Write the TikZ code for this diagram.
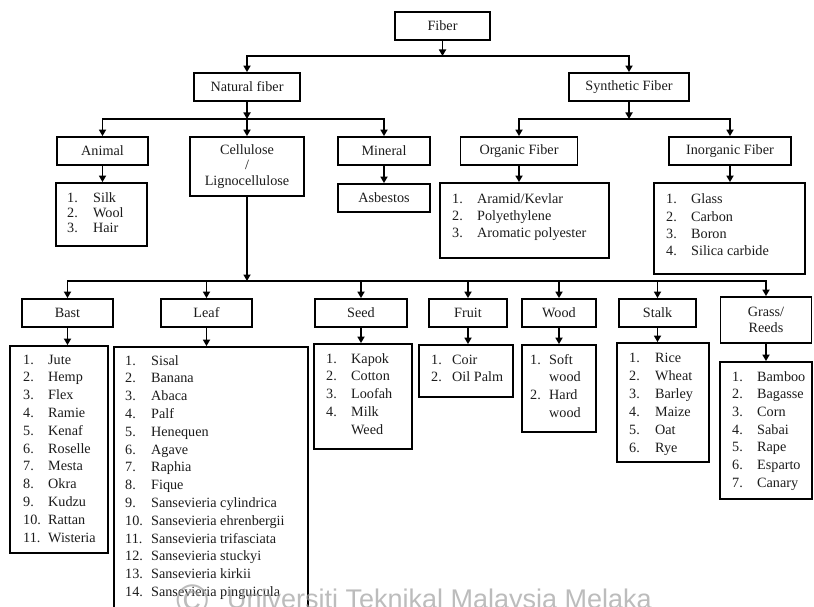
\documentclass[tikz,border=0pt]{standalone}
\usepackage{fontspec}
\setmainfont{Liberation Serif}
\setsansfont{Liberation Sans}
\usetikzlibrary{arrows.meta}
\definecolor{txt}{HTML}{1C1C1C}
\definecolor{wmc}{HTML}{A0A0A0}
\newcommand\mylist[6]{%
  \node[anchor=base west, inner sep=0pt, text=txt, font=\fontsize{14.2}{#5}\selectfont] (#1) at (#2,#3)
  {\begin{tabular}[t]{@{}p{#4pt}@{}l@{}}#6\end{tabular}};}
\begin{document}
\begin{tikzpicture}[x=1pt,y=-1pt,
  box/.style={draw=black, line width=1.8pt, rectangle, inner sep=0pt, text=txt,
    font=\fontsize{14.2}{15.5}\selectfont, align=center},
  arr/.style={line width=1.8pt, -{Triangle[length=6.5pt,width=7pt]}},
  ln/.style={line width=1.8pt}]
\useasboundingbox (0,0) rectangle (814,607);
\clip (0,0) rectangle (814,607);
\fill[white] (0,0) rectangle (814,607);

% level 0-2 boxes
\node[box, minimum width=95pt, minimum height=28pt] (fiber) at (442.5,26) {Fiber};
\node[box, minimum width=106pt, minimum height=28pt] (nat) at (247,87) {Natural fiber};
\node[box, minimum width=120pt, minimum height=28pt] (syn) at (629,87) {Synthetic Fiber};
\node[box, minimum width=91pt, minimum height=28pt] (animal) at (102.5,151) {Animal};
\node[box, minimum width=114pt, minimum height=59pt] (cell) at (247,166.5) {Cellulose\\/\\Lignocellulose};
\node[box, minimum width=92pt, minimum height=28pt] (mineral) at (384,151) {Mineral};
\node[box, minimum width=117pt, minimum height=28pt] (organic) at (519,151) {Organic Fiber};
\node[box, minimum width=122pt, minimum height=28pt] (inorg) at (730,151) {Inorganic Fiber};

% lists level 2
\node[box, minimum width=91pt, minimum height=63pt] (animall) at (101.5,214.5) {};
\node[box, minimum width=92pt, minimum height=28pt] (asb) at (384,198) {Asbestos};
\node[box, minimum width=169pt, minimum height=75pt] (orgl) at (524.5,220.5) {};
\node[box, minimum width=151pt, minimum height=91pt] (inorgl) at (729.5,228.5) {};

% level 3 boxes
\node[box, minimum width=91pt, minimum height=28pt] (bast) at (67.5,313) {Bast};
\node[box, minimum width=91pt, minimum height=28pt] (leaf) at (206.5,313) {Leaf};
\node[box, minimum width=92pt, minimum height=28pt] (seed) at (361,313) {Seed};
\node[box, minimum width=78pt, minimum height=28pt] (fruit) at (468,313) {Fruit};
\node[box, minimum width=74pt, minimum height=28pt] (wood) at (559,313) {Wood};
\node[box, minimum width=77pt, minimum height=28pt] (stalk) at (657.5,313) {Stalk};
\node[box, minimum width=91pt, minimum height=46pt] (grass) at (766,320) {Grass/\\Reeds};

% level 3 lists
\node[box, minimum width=98pt, minimum height=207pt] (bastl) at (59,449.5) {};
\node[box, minimum width=194pt, minimum height=273pt] (leafl) at (211,483.5) {};
\node[box, minimum width=98pt, minimum height=105pt] (seedl) at (363,396.5) {};
\node[box, minimum width=94pt, minimum height=52pt] (fruitl) at (466,371) {};
\node[box, minimum width=74pt, minimum height=87pt] (woodl) at (559,388.5) {};
\node[box, minimum width=92pt, minimum height=119pt] (stalkl) at (663,402.5) {};
\node[box, minimum width=92pt, minimum height=137pt] (grassl) at (766,430.5) {};

% list texts
\mylist{tanimal}{67}{202}{26}{15.2}{1.&Silk\\2.&Wool\\3.&Hair}
\mylist{torg}{452}{203}{25}{17.3}{1.&Aramid/Kevlar\\2.&Polyethylene\\3.&Aromatic polyester}
\mylist{tinorg}{666}{204}{25}{17.3}{1.&Glass\\2.&Carbon\\3.&Boron\\4.&Silica carbide}
\mylist{tbast}{23}{364}{25}{17.8}{1.&Jute\\2.&Hemp\\3.&Flex\\4.&Ramie\\5.&Kenaf\\6.&Roselle\\7.&Mesta\\8.&Okra\\9.&Kudzu\\10.&Rattan\\11.&Wisteria}
\mylist{tleaf}{125}{365}{26}{17.8}{1.&Sisal\\2.&Banana\\3.&Abaca\\4.&Palf\\5.&Henequen\\6.&Agave\\7.&Raphia\\8.&Fique\\9.&Sansevieria cylindrica\\10.&Sansevieria ehrenbergii\\11.&Sansevieria trifasciata\\12.&Sansevieria stuckyi\\13.&Sansevieria kirkii\\14.&Sansevieria pinguicula}
\mylist{tseed}{326}{363}{25}{17.75}{1.&Kapok\\2.&Cotton\\3.&Loofah\\4.&Milk\\&Weed}
\mylist{tfruit}{431}{364}{21}{17.7}{1.&Coir\\2.&Oil Palm}
\mylist{twood}{530}{364}{19}{17.7}{1.&Soft\\&wood\\2.&Hard\\&wood}
\mylist{tstalk}{629}{362}{26}{18.05}{1.&Rice\\2.&Wheat\\3.&Barley\\4.&Maize\\5.&Oat\\6.&Rye}
\mylist{tgrass}{732}{381}{25}{17.7}{1.&Bamboo\\2.&Bagasse\\3.&Corn\\4.&Sabai\\5.&Rape\\6.&Esparto\\7.&Canary}

% junctions
\coordinate (jf) at (442.5,56);
\coordinate (jn) at (247,119);
\coordinate (js) at (629,119);
\coordinate (jc) at (247,281);

% connectors
\draw[arr] (fiber) -- (jf);
\draw[arr] (jf) -| (nat);
\draw[arr] (jf) -| (syn);
\draw[arr] (nat) -- (jn);
\draw[arr] (jn) -| (animal);
\draw[arr] (jn) -- (cell);
\draw[arr] (jn) -| (mineral);
\draw[arr] (syn) -- (js);
\draw[arr] (js) -| (organic);
\draw[arr] (js) -| (inorg);
\draw[arr] (animal) -- (animal |- animall.north);
\draw[arr] (mineral) -- (asb);
\draw[arr] (organic) -- (organic |- orgl.north);
\draw[arr] (inorg) -- (inorg |- inorgl.north);
\draw[arr] (cell) -- (jc);
\foreach \n in {bast,leaf,seed,fruit,wood,stalk,grass}{
  \draw[arr] (jc) -| (\n);
  \draw[arr] (\n) -- (\n |- \n l.north);
}

% watermark
\node[anchor=base west, inner sep=0pt, text=wmc, opacity=0.7, font=\sffamily\fontsize{44}{44}\selectfont] (wmc) at (176,615) {©};
\node[anchor=base west, inner sep=0pt, text=wmc, opacity=0.7, font=\sffamily\fontsize{27}{27}\selectfont] (wm) at (227,608) {Universiti Teknikal Malaysia Melaka};
\end{tikzpicture}
\end{document}
